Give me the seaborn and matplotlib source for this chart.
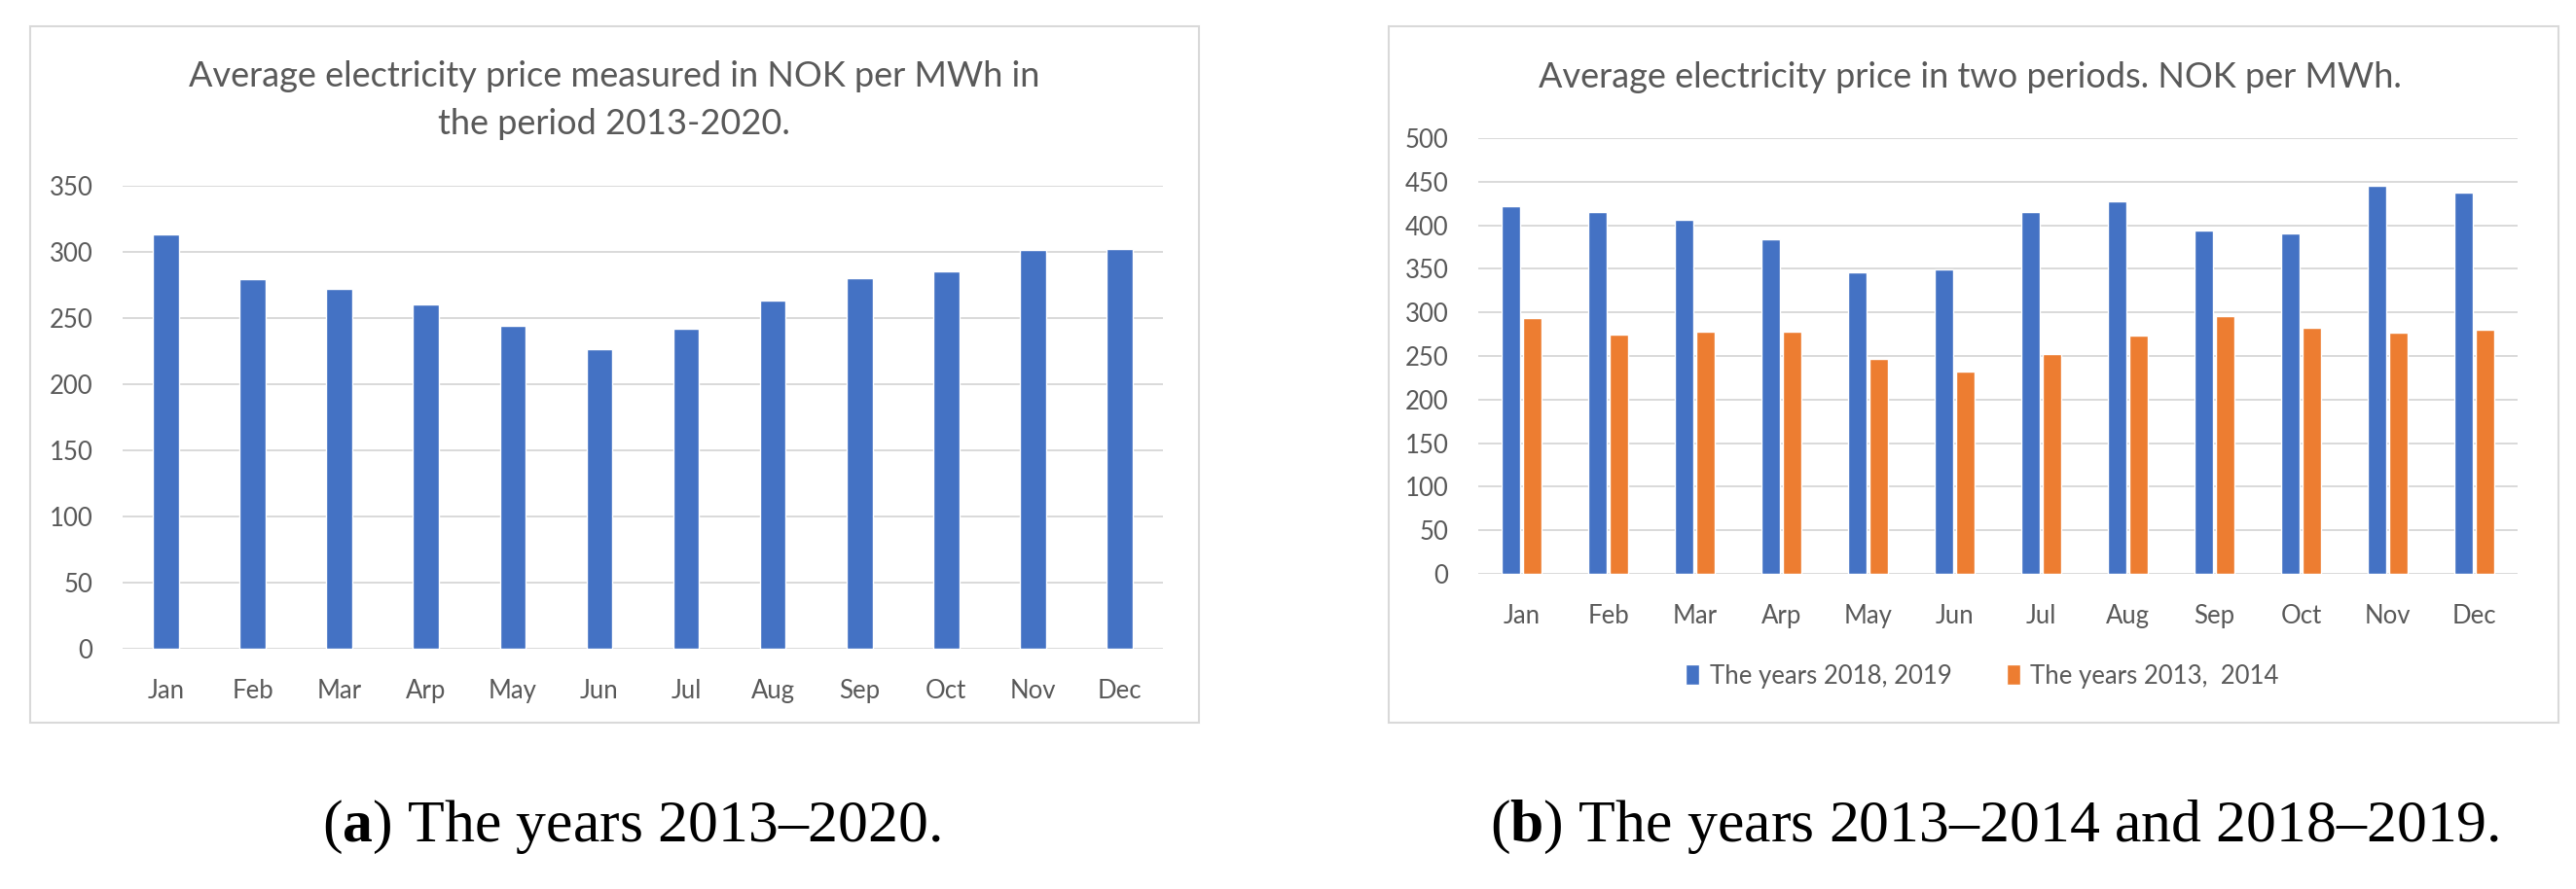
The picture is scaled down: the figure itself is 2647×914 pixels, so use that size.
import pandas as pd
import matplotlib
matplotlib.use("Agg")
import matplotlib.pyplot as plt
from matplotlib.patches import Rectangle
import seaborn as sns

months = ["Jan", "Feb", "Mar", "Arp", "May", "Jun", "Jul", "Aug", "Sep", "Oct", "Nov", "Dec"]
avg_2013_2020 = [313, 279, 272, 260, 244, 226, 242, 263, 280, 285, 301, 302]
avg_2018_2019 = [422, 415, 406, 384, 346, 349, 415, 428, 394, 391, 445, 437]
avg_2013_2014 = [294, 274, 278, 278, 247, 232, 252, 273, 296, 282, 277, 280]
period_labels = ["The years 2018, 2019", "The years 2013,  2014"]

BLUE = "#4472C4"
ORANGE = "#ED7D31"
GRID = "#D9D9D9"
TEXT = "#595959"

W, H = 2647, 914

sns.set_theme(style="white")
plt.rcParams["font.family"] = ["Lato", "DejaVu Sans"]
plt.rcParams["mathtext.fontset"] = "custom"
plt.rcParams["mathtext.rm"] = "Liberation Serif"
plt.rcParams["mathtext.bf"] = "Liberation Serif:bold"

fig = plt.figure(figsize=(W / 100, H / 100), dpi=100)
fig.patch.set_facecolor("white")


def px_axes(x0, x1, ytop, ybot):
    ax = fig.add_axes([x0 / W, 1 - ybot / H, (x1 - x0) / W, (ybot - ytop) / H])
    ax.set_facecolor("none")
    return ax


def style_axes(ax, ymax):
    ax.set_ylim(0, ymax)
    ax.set_yticks(range(0, ymax + 1, 50))
    ax.grid(axis="y", color=GRID, linewidth=1.4)
    ax.set_axisbelow(True)
    for s in ax.spines.values():
        s.set_visible(False)
    ax.tick_params(axis="both", length=0, labelsize=18.5, labelcolor=TEXT)
    ax.tick_params(axis="y", pad=22)
    ax.tick_params(axis="x", pad=22)
    ax.set_xlabel("")
    ax.set_ylabel("")


# outer chart boxes, behind the axes
for x0, x1 in [(31, 1232), (1427, 2629)]:
    fig.patches.append(Rectangle((x0 / W, 1 - 743 / H), (x1 - x0) / W, (743 - 27) / H,
                                 transform=fig.transFigure, facecolor="white",
                                 edgecolor=GRID, linewidth=1.5, zorder=-10))

# (a) 2013-2020
ax1 = px_axes(126, 1195, 190.7, 667)
sns.barplot(x=months, y=avg_2013_2020, color=BLUE, saturation=1, width=0.3, ax=ax1)
style_axes(ax1, 350)
fig.text(631 / W, 1 - 103 / H, "Average electricity price measured in NOK per MWh in\nthe period 2013-2020.",
         ha="center", va="center", fontsize=26, color=TEXT, linespacing=1.6)

# (b) two periods
df = pd.DataFrame({
    "month": months * 2,
    "price": avg_2018_2019 + avg_2013_2014,
    "period": [period_labels[0]] * 12 + [period_labels[1]] * 12,
})
ax2 = px_axes(1519, 2587, 142, 590)
sns.barplot(data=df, x="month", y="price", hue="period", palette=[BLUE, ORANGE],
            saturation=1, width=0.5, gap=0.15, ax=ax2)
style_axes(ax2, 500)
handles, labels = ax2.get_legend_handles_labels()
ax2.get_legend().remove()
fig.legend(handles, labels, loc="center", bbox_to_anchor=(2037 / W, 1 - 695 / H), ncol=2,
           frameon=False, fontsize=18.5, labelcolor=TEXT, handlelength=0.55, handleheight=0.9,
           handletextpad=0.4, columnspacing=2.2)
fig.text(2024 / W, 1 - 80 / H, "Average electricity price in two periods. NOK per MWh.",
         ha="center", va="center", fontsize=26, color=TEXT)

# captions
fig.text(649 / W, 1 - 850 / H, r"($\mathbf{a}$) The years 2013–2020.",
         ha="center", va="center", fontsize=44.5, color="black", family="Liberation Serif")
fig.text(2050 / W, 1 - 850 / H, r"($\mathbf{b}$) The years 2013–2014 and 2018–2019.",
         ha="center", va="center", fontsize=44.5, color="black", family="Liberation Serif")

fig.savefig("out.png", dpi=100)
